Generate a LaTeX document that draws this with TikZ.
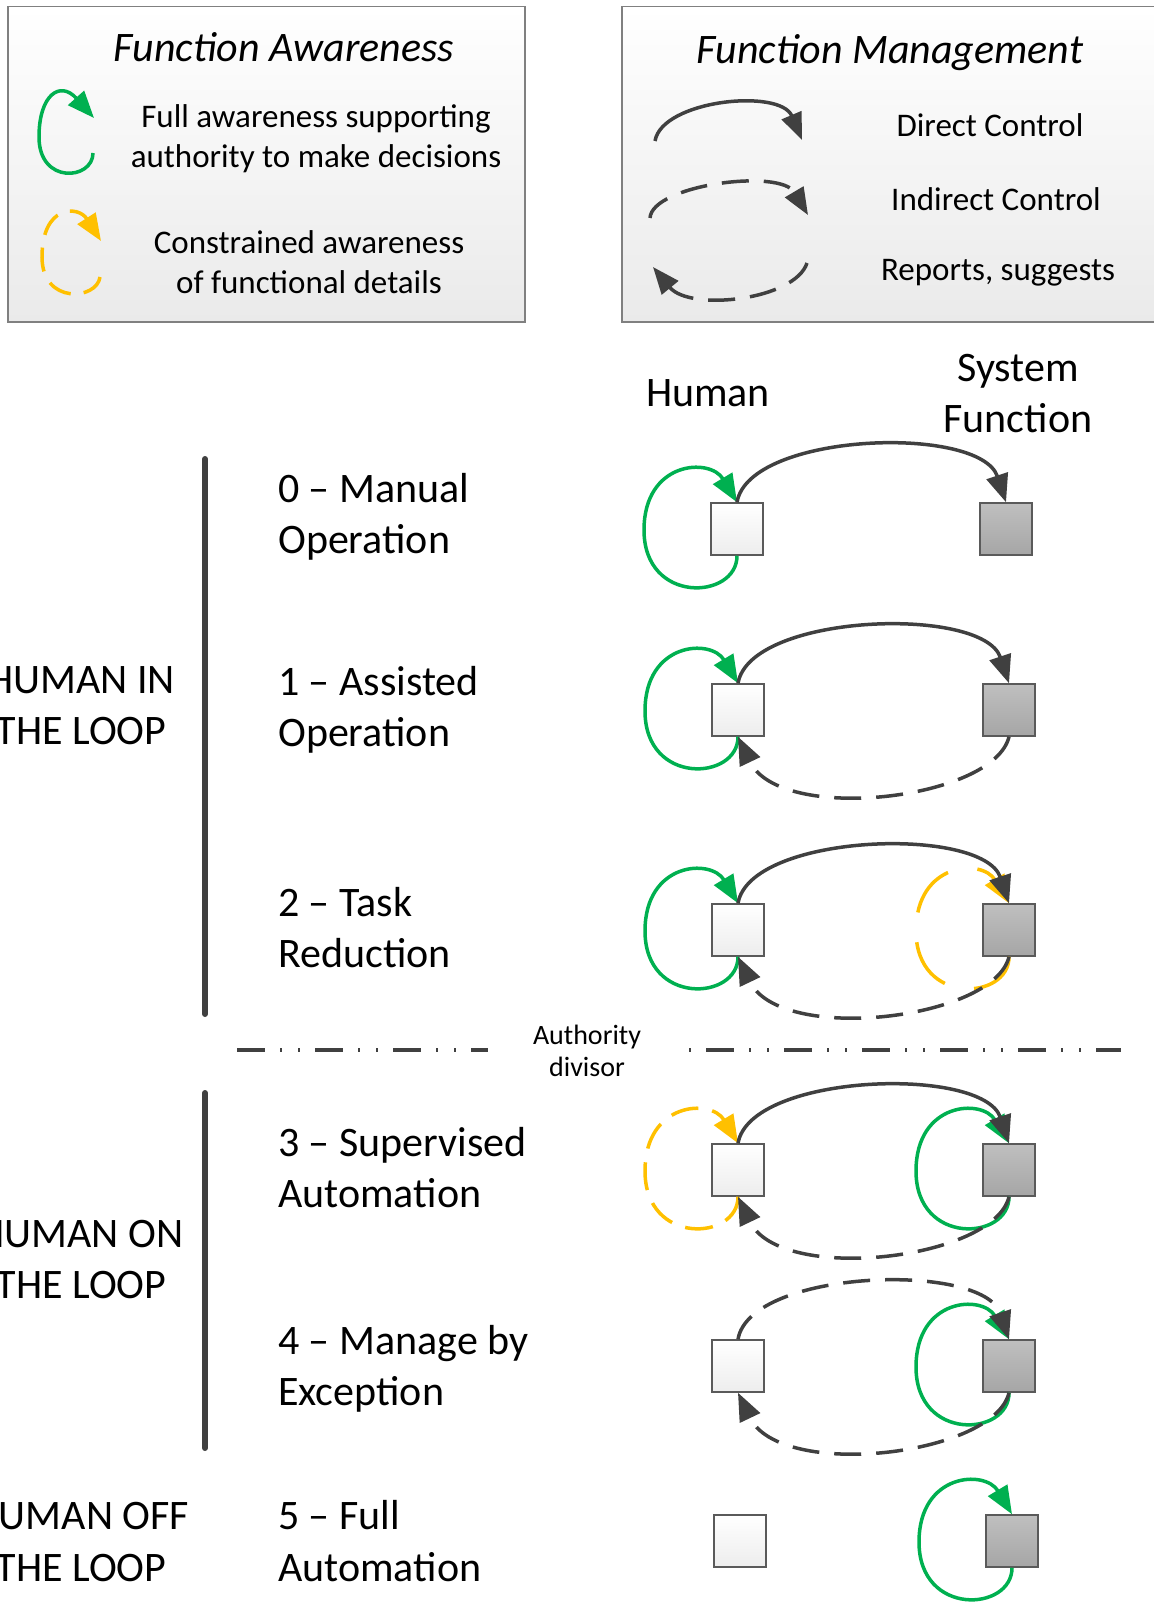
\documentclass[tikz,border=0pt]{standalone}
\usepackage{fontspec}
\setmainfont{Carlito}
\usetikzlibrary{arrows.meta,calc}
\definecolor{ctl}{HTML}{404040}
\definecolor{awgreen}{HTML}{00B050}
\definecolor{awyellow}{HTML}{FFC000}
\definecolor{sqborder}{HTML}{5A5A5A}
\definecolor{hfill}{HTML}{EDEDED}
\definecolor{sfillt}{HTML}{BFBFBF}
\definecolor{sfillb}{HTML}{A6A6A6}
\definecolor{legbord}{HTML}{808080}
\definecolor{legbot}{HTML}{EAEAEA}
\newcommand\awloop[2]{\draw[#2] (#1.south) .. controls +(0,44) and +(0,75) .. ($(#1.center)+(-93,1)$) .. controls +(0,-69) and +(-27,-45) .. (#1.north);}
\begin{document}
\begin{tikzpicture}[x=1pt,y=-1pt,
  legbox/.style={draw=legbord, line width=1.5pt, top color=white, bottom color=legbot, inner sep=0pt, anchor=north west},
  legtitle/.style={font=\fontsize{42}{50}\selectfont\itshape, anchor=base, inner sep=0pt},
  legtext/.style={font=\fontsize{33}{40}\selectfont, anchor=base, inner sep=0pt},
  lbltext/.style={font=\fontsize{42}{50}\selectfont, anchor=base west, inner sep=0pt},
  sidetext/.style={font=\fontsize{42}{50}\selectfont, anchor=base, inner sep=0pt},
  divtext/.style={font=\fontsize{28}{32}\selectfont, anchor=base, inner sep=0pt},
  hsq/.style={draw=sqborder, line width=1.5pt, minimum size=52pt, inner sep=0pt, top color=white, bottom color=hfill},
  ssq/.style={draw=sqborder, line width=1.5pt, minimum size=52pt, inner sep=0pt, top color=sfillt, bottom color=sfillb},
  tipbig/.style={-{Triangle[length=28pt,width=22pt]}},
  tipleg/.style={-{Triangle[length=27pt,width=21pt]}},
  ctrlarc/.style={draw=ctl, line width=3.5pt, tipbig},
  indarc/.style={ctrlarc, dash pattern=on 27pt off 15pt},
  fullloop/.style={draw=awgreen, line width=3.5pt, tipbig},
  consloop/.style={draw=awyellow, line width=3.5pt, tipbig, dash pattern=on 28pt off 14pt},
  consloopbig/.style={consloop, dash pattern=on 52pt off 30pt},
  legctrl/.style={draw=ctl, line width=3.5pt, tipleg},
  legind/.style={legctrl, dash pattern=on 27pt off 15pt},
  legfull/.style={draw=awgreen, line width=3.5pt, tipleg},
  legcons/.style={draw=awyellow, line width=3.5pt, tipleg, dash pattern=on 24pt off 13pt},
  vbar/.style={draw=ctl, line width=6pt, line cap=round},
  divline/.style={draw=ctl, line width=4pt, dash pattern=on 28pt off 15pt on 2pt off 16pt on 2pt off 15pt}
]
\useasboundingbox (0,0) rectangle (1153,1602);

% ---------- legends ----------
\node[legbox, minimum width=517pt, minimum height=315pt] (legA) at (7,6) {};
\node[legbox, minimum width=560pt, minimum height=315pt] (legB) at (621,6) {};

\node[legtitle] (tA) at (284,62) {Function Awareness};
\node[legtitle] (tB) at (890,64) {Function Management};

\node[legtext] (la1) at (316,128) {Full awareness supporting};
\node[legtext] (la2) at (316,168) {authority to make decisions};
\node[legtext] (lb1) at (309,254) {Constrained awareness};
\node[legtext] (lb2) at (309,294) {of functional details};

\node[legtext] (lc1) at (990,137) {Direct Control};
\node[legtext] (lc2) at (996,211) {Indirect Control};
\node[legtext] (lc3) at (998,281) {Reports, suggests};

\coordinate (gA) at (93,153);
\coordinate (gB) at (39,137);
\coordinate (gC) at (94,118);
\draw[legfull] (gA) .. controls (93,180) and (39,185) .. (gB) .. controls (39,95) and (60,80) .. (gC);

\coordinate (yA) at (100,277);
\coordinate (yB) at (42,257);
\coordinate (yC) at (101,241);
\draw[legcons] (yA) .. controls (97,300) and (42,305) .. (yB) .. controls (42,205) and (78,205) .. (yC);

\coordinate (dA) at (655,141);
\coordinate (dB) at (802,140);
\draw[legctrl] (dA) .. controls (662,100) and (780,88) .. (dB);
\coordinate (iA) at (650,218);
\coordinate (iB) at (808,215);
\draw[legind] (iA) .. controls (652,185) and (780,168) .. (iB);
\coordinate (rA) at (807,263);
\coordinate (rB) at (653,267);
\draw[legind] (rA) .. controls (795,300) and (690,312) .. (rB);

% ---------- headers ----------
\node[sidetext] (hh) at (708,406) {Human};
\node[sidetext] (hs1) at (1018,381) {System};
\node[sidetext] (hs2) at (1018,432) {Function};

% ---------- left labels ----------
\node[sidetext] (g1a) at (81,693) {HUMAN IN};
\node[sidetext] (g1b) at (81,744) {THE LOOP};
\node[sidetext] (g2a) at (81,1247) {HUMAN ON};
\node[sidetext] (g2b) at (81,1298) {THE LOOP};
\node[sidetext] (g3a) at (81,1529) {HUMAN OFF};
\node[sidetext] (g3b) at (81,1581) {THE LOOP};

\coordinate (v1a) at (205,459);
\coordinate (v1b) at (205,1014);
\coordinate (v2a) at (205,1093);
\coordinate (v2b) at (205,1448);
\draw[vbar] (v1a) -- (v1b);
\draw[vbar] (v2a) -- (v2b);

% ---------- level labels ----------
\node[lbltext] (l0a) at (278,502) {0 – Manual};
\node[lbltext] (l0b) at (278,553) {Operation};
\node[lbltext] (l1a) at (278,695) {1 – Assisted};
\node[lbltext] (l1b) at (278,746) {Operation};
\node[lbltext] (l2a) at (278,916) {2 – Task};
\node[lbltext] (l2b) at (278,967) {Reduction};
\node[lbltext] (l3a) at (278,1156) {3 – Supervised};
\node[lbltext] (l3b) at (278,1207) {Automation};
\node[lbltext] (l4a) at (278,1354) {4 – Manage by};
\node[lbltext] (l4b) at (278,1405) {Exception};
\node[lbltext] (l5a) at (278,1529) {5 – Full};
\node[lbltext] (l5b) at (278,1581) {Automation};

% ---------- authority divisor ----------
\coordinate (dvA) at (237,1050);
\coordinate (dvB) at (488,1050);
\coordinate (dvC) at (689,1050);
\coordinate (dvD) at (1121,1050);
\draw[divline] (dvA) -- (dvB);
\draw[divline, dash phase=61pt] (dvC) -- (dvD);
\node[divtext] (au1) at (587,1044) {Authority};
\node[divtext] (au2) at (587,1076) {divisor};

% ---------- squares ----------
\node[hsq] (h0) at (737,529) {};
\node[ssq] (s0) at (1006,529) {};
\node[hsq] (h1) at (738,710) {};
\node[ssq] (s1) at (1009,710) {};
\node[hsq] (h2) at (738,930) {};
\node[ssq] (s2) at (1009,930) {};
\node[hsq] (h3) at (738,1170) {};
\node[ssq] (s3) at (1009,1170) {};
\node[hsq] (h4) at (738,1366) {};
\node[ssq] (s4) at (1009,1366) {};
\node[hsq] (h5) at (740,1541) {};
\node[ssq] (s5) at (1012,1541) {};

% ---------- awareness loops ----------
\awloop{h0}{fullloop}
\awloop{h1}{fullloop}
\awloop{h2}{fullloop}
\awloop{s2}{consloopbig}
\awloop{h3}{consloop}
\awloop{s3}{fullloop}
\awloop{s4}{fullloop}
\awloop{s5}{fullloop}

% ---------- control arcs ----------
\draw[ctrlarc] (h0.north) .. controls +(12,-70) and +(-26,-78) .. (s0.north);
\draw[ctrlarc] (h1.north) .. controls +(12,-70) and +(-26,-78) .. (s1.north);
\draw[ctrlarc] (h2.north) .. controls +(12,-70) and +(-26,-78) .. (s2.north);
\draw[ctrlarc] (h3.north) .. controls +(12,-70) and +(-26,-78) .. (s3.north);
\draw[indarc] (h4.north) .. controls +(12,-70) and +(-26,-78) .. (s4.north);

\draw[indarc] (s1.south) .. controls +(-15,63) and +(42,88) .. (h1.south);
\draw[indarc] (s2.south) .. controls +(-15,63) and +(42,88) .. (h2.south);
\draw[indarc] (s3.south) .. controls +(-15,63) and +(42,88) .. (h3.south);
\draw[indarc] (s4.south) .. controls +(-15,63) and +(42,88) .. (h4.south);
\end{tikzpicture}
\end{document}
